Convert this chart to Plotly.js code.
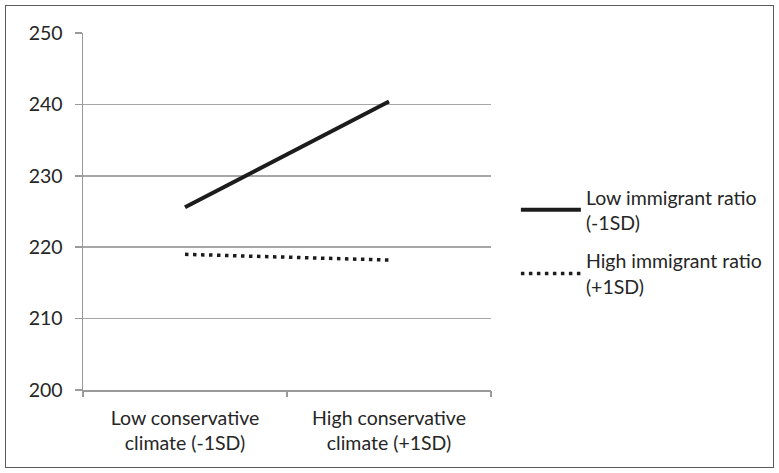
<!DOCTYPE html>
<html>
<head>
<meta charset="utf-8">
<script src="https://cdn.plot.ly/plotly-3.0.1.min.js"></script>
<style>
html,body{margin:0;padding:0;background:#fff;}
#wrap{position:relative;width:779px;height:473px;}
#chart{width:779px;height:473px;}
#frame{position:absolute;left:5px;top:5px;width:767px;height:461px;border:1.5px solid #5a5a5a;pointer-events:none;}
</style>
</head>
<body>
<div id="wrap"><div id="chart"></div><div id="frame"></div></div>
<script>
var categories = ["Low conservative<br>climate (-1SD)", "High conservative<br>climate (+1SD)"];
var lowImmigrant = [225.6, 240.4];
var highImmigrant = [219.0, 218.2];
var seriesNames = ["Low immigrant ratio<br>(-1SD)", "High immigrant ratio<br>(+1SD)"];
var yTicks = [200, 210, 220, 230, 240, 250];

var xpos = categories.map(function(_, i){ return i; });

var traces = [
  {x: xpos, y: lowImmigrant, name: seriesNames[0], legendgroup: "a", mode: "lines", type: "scatter",
   line: {color: "#1c1c1c", width: 4}},
  {x: xpos, y: highImmigrant, name: seriesNames[1], legendgroup: "b", mode: "lines", type: "scatter",
   line: {color: "#1c1c1c", width: 3.5, dash: "3.5px,4.5px"}},
  {x: [-0.5, 1.5], y: [200, 200], xaxis: "x2", mode: "none", type: "scatter",
   showlegend: false, hoverinfo: "skip"}
];

var font = {family: "Lato, 'Open Sans', sans-serif", size: 19.5, color: "#262626"};

var layout = {
  width: 779, height: 473,
  margin: {l: 83, r: 288, t: 33, b: 83},
  paper_bgcolor: "#fff", plot_bgcolor: "#fff",
  font: font,
  showlegend: true,
  xaxis: {
    range: [-0.5, 1.5], tickvals: xpos, ticktext: categories,
    ticks: "", showgrid: false, zeroline: false, showline: true,
    linecolor: "#9a9a9a", linewidth: 1.5, tickfont: font, ticklabelstandoff: 10
  },
  xaxis2: {
    overlaying: "x", range: [-0.5, 1.5], tickvals: [-0.5, 0.5, 1.5],
    showticklabels: false, ticks: "outside", ticklen: 6, tickcolor: "#9a9a9a",
    tickwidth: 1.5, showgrid: false, zeroline: false, showline: false, side: "bottom"
  },
  yaxis: {
    range: [200, 250], tickvals: yTicks, ticks: "outside", ticklen: 7,
    tickcolor: "#9a9a9a", tickwidth: 1.5, showgrid: true, gridcolor: "#a6a6a6",
    gridwidth: 1.5, zeroline: false, showline: true, linecolor: "#9a9a9a",
    linewidth: 1.5, tickfont: font, ticklabelstandoff: 8
  },
  legend: {
    x: 1.061, xanchor: "left", xref: "paper", y: 0.415, yanchor: "middle",
    font: font, itemwidth: 60, traceorder: "grouped", tracegroupgap: 10,
    bgcolor: "rgba(0,0,0,0)"
  }
};

Plotly.newPlot("chart", traces, layout, {displayModeBar: false, staticPlot: true});
</script>
</body>
</html>
